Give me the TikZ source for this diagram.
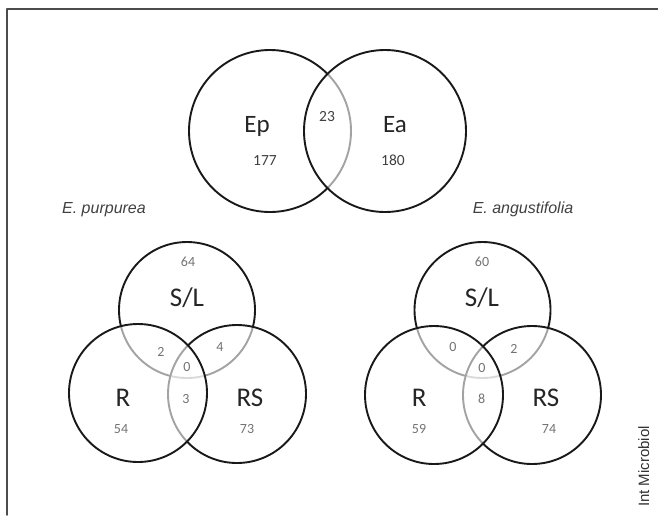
\documentclass[tikz,border=0pt]{standalone}
\usepackage{fontspec}
\setmainfont{Carlito}
\newfontfamily\arialfont{Liberation Sans}

\begin{document}
\begin{tikzpicture}[
    x=1pt,y=-1pt,
    line join=round,line cap=round,
    ring/.style={circle,draw=black!90,line width=1.9pt,fill=white,
        fill opacity=0.6,inner sep=0pt,minimum size=#1},
    setname/.style={anchor=base,inner sep=0pt,text=black!85,
        font=\fontsize{#1}{#1}\selectfont},
    setname/.default=27,
    bignum/.style={anchor=base,inner sep=0pt,text=black!75,
        font=\fontsize{15.5}{15.5}\selectfont},
    smallnum/.style={anchor=base,inner sep=0pt,text=black!55,
        font=\fontsize{14}{14}\selectfont},
    species/.style={anchor=base,inner sep=0pt,text=black!75,
        font=\arialfont\itshape\fontsize{16}{16}\selectfont}
  ]
  \useasboundingbox (0,0) rectangle (658,515);
  \draw[black!70,line width=1.5pt] (7,515) -- (7,9) -- (658,9);

  % Ep / Ea
  \node[ring=162] (ep) at (270,131) {};
  \node[ring=162] (ea) at (385,131) {};
  \node[setname=25] (epl) at (257,132) {Ep};
  \node[setname=25] (eal) at (395,132) {Ea};
  \node[bignum] (ep177) at (265,165) {177};
  \node[bignum] (epea23) at (327,121) {23};
  \node[bignum] (ea180) at (393,165) {180};

  \node[species] (purp) at (104,213) {E. purpurea};
  \node[species] (angu) at (523,213) {E. angustifolia};

  % E. purpurea: S/L, RS, R
  \node[ring=136] (sl1) at (187,310) {};
  \node[ring=138] (rs1) at (237,394) {};
  \node[ring=138] (r1) at (138,393) {};
  \node[setname] (sl1l) at (187,306) {S/L};
  \node[setname] (r1l) at (123,406.5) {R};
  \node[setname] (rs1l) at (250,406.5) {RS};
  \node[smallnum] (n64) at (188,266.5) {64};
  \node[smallnum] (n2a) at (161,356.5) {2};
  \node[smallnum] (n4a) at (220,351.5) {4};
  \node[smallnum] (n0a) at (187,371) {0};
  \node[smallnum] (n3a) at (186,403) {3};
  \node[smallnum] (n54) at (121,433) {54};
  \node[smallnum] (n73) at (247,433) {73};

  % E. angustifolia: S/L, RS, R
  \node[ring=136] (sl2) at (482.5,310) {};
  \node[ring=138] (rs2) at (532,395) {};
  \node[ring=138] (r2) at (434,395) {};
  \node[setname] (sl2l) at (482,306) {S/L};
  \node[setname] (r2l) at (419.3,406.5) {R};
  \node[setname] (rs2l) at (546,406.5) {RS};
  \node[smallnum] (n60) at (482,266) {60};
  \node[smallnum] (n0b) at (453,351.5) {0};
  \node[smallnum] (n2b) at (514,353) {2};
  \node[smallnum] (n0c) at (482,372.5) {0};
  \node[smallnum] (n8b) at (481.7,403) {8};
  \node[smallnum] (n59) at (419,433) {59};
  \node[smallnum] (n74) at (549,433) {74};

  \node[anchor=base,rotate=90,inner sep=0pt,text=black!80,
    font=\arialfont\fontsize{15}{15}\selectfont] (journal) at (649,466.5) {Int Microbiol};
\end{tikzpicture}
\end{document}
